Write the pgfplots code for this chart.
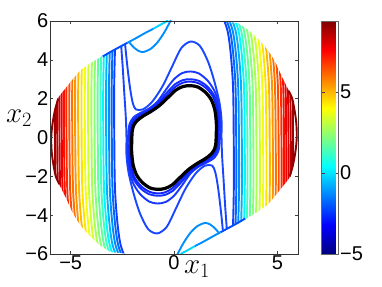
\RequirePackage{fix-cm}
\documentclass[border=0pt]{standalone}
\usepackage{pgfplots}
\pgfplotsset{compat=1.18}
\usepackage{fontspec}
\setmainfont{Liberation Sans}
\definecolor{c1}{rgb}{0.611,0,0}
\definecolor{c2}{rgb}{0.722,0,0}
\definecolor{c3}{rgb}{0.833,0,0}
\definecolor{c4}{rgb}{0.944,0,0}
\definecolor{c5}{rgb}{1,0.056,0}
\definecolor{c6}{rgb}{1,0.167,0}
\definecolor{c7}{rgb}{1,0.306,0}
\definecolor{c8}{rgb}{1,0.444,0}
\definecolor{c9}{rgb}{1,0.583,0}
\definecolor{c10}{rgb}{1,0.722,0}
\definecolor{c11}{rgb}{1,0.889,0}
\definecolor{c12}{rgb}{0.944,1,0.056}
\definecolor{c13}{rgb}{0.806,1,0.194}
\definecolor{c14}{rgb}{0.667,1,0.333}
\definecolor{c15}{rgb}{0.528,1,0.472}
\definecolor{c16}{rgb}{0.389,1,0.611}
\definecolor{c17}{rgb}{0.25,1,0.75}
\definecolor{c19}{rgb}{0,0.972,1}
\definecolor{c20}{rgb}{0,0.833,1}
\definecolor{c21}{rgb}{0,0.694,1}
\definecolor{c22}{rgb}{0,0.556,1}
\definecolor{c23}{rgb}{0,0.417,1}
\definecolor{c24}{rgb}{0,0.306,1}
\definecolor{c25}{rgb}{0.05,0.25,1}
\definecolor{cH}{rgb}{0.1,0.28,1}
\definecolor{cCc}{rgb}{0.1,0.22,1}
\definecolor{cCb}{rgb}{0.08,0.18,1}
\definecolor{cCa}{rgb}{0.06,0.14,1}
\definecolor{cArc}{rgb}{0.556,0,0}
\begin{document}
\begin{tikzpicture}
\path[use as bounding box] (-50pt,-32pt) rectangle (332pt,254pt);
\begin{axis}[
  at={(0pt,0pt)}, anchor=south west,
  scale only axis, width=248pt, height=233pt,
  xmin=-6, xmax=6, ymin=-6, ymax=6,
  xtick={-5,0,5}, xticklabels={−5,0,5},
  ytick={-6,-4,-2,0,2,4,6}, yticklabels={−6,−4,−2,0,2,4,6},
  tick align=inside, major tick length=3pt,
  tick style={black!75, line width=0.5pt},
  tick label style={font=\fontsize{20}{22}\selectfont, inner sep=1.5pt},
  axis line style={black!80, line width=0.6pt},
  axis on top,
  no markers,
  colormap/jet,
  point meta min=-5, point meta max=9.4,
  colorbar,
  colorbar style={
    at={(parent axis.north east)}, anchor=north west, xshift=15pt,
    width=17pt, height=233pt, scale only axis,
    ytick={-5,0,5}, yticklabels={−5,0,5},
    tick align=inside, major tick length=3pt,
    tick style={black!75, line width=0.5pt},
    yticklabel style={font=\fontsize{20}{22}\selectfont, inner sep=1.5pt},
    axis line style={black!60, line width=0.5pt},
  },
  xlabel={$x_1$}, ylabel={$x_2$},
  xlabel style={at={(rel axis cs:0.593,-0.0837)}, anchor=base, font=\fontsize{29}{31}\selectfont},
  ylabel style={at={(rel axis cs:-0.125,0.5665)}, rotate=-90, anchor=base, font=\fontsize{29}{31}\selectfont},
  every axis plot/.append style={line width=1.9pt, smooth, line join=round},
]
% ---- left open contour lines
\addplot[c1] coordinates {(-4.86,-7) (-5.46,-5.5) (-5.71,-3) (-5.76,0) (-5.76,3) (-5.66,7)};
\addplot[c2] coordinates {(-4.75,-7) (-5.35,-5.5) (-5.60,-3) (-5.65,0) (-5.65,3) (-5.55,7)};
\addplot[c3] coordinates {(-4.64,-7) (-5.24,-5.5) (-5.49,-3) (-5.54,0) (-5.54,3) (-5.44,7)};
\addplot[c4] coordinates {(-4.53,-7) (-5.13,-5.5) (-5.38,-3) (-5.43,0) (-5.43,3) (-5.33,7)};
\addplot[c5] coordinates {(-4.42,-7) (-5.02,-5.5) (-5.27,-3) (-5.32,0) (-5.32,3) (-5.22,7)};
\addplot[c6] coordinates {(-4.30,-7) (-4.90,-5.5) (-5.15,-3) (-5.20,0) (-5.20,3) (-5.10,7)};
\addplot[c7] coordinates {(-4.16,-7) (-4.76,-5.5) (-5.01,-3) (-5.06,0) (-5.06,3) (-4.96,7)};
\addplot[c8] coordinates {(-4.02,-7) (-4.62,-5.5) (-4.87,-3) (-4.92,0) (-4.92,3) (-4.82,7)};
\addplot[c9] coordinates {(-3.88,-7) (-4.48,-5.5) (-4.73,-3) (-4.78,0) (-4.78,3) (-4.68,7)};
\addplot[c10] coordinates {(-3.73,-7) (-4.33,-5.5) (-4.58,-3) (-4.63,0) (-4.63,3) (-4.53,7)};
\addplot[c11] coordinates {(-3.57,-7) (-4.17,-5.5) (-4.42,-3) (-4.47,0) (-4.47,3) (-4.37,7)};
\addplot[c12] coordinates {(-3.41,-7) (-4.01,-5.5) (-4.26,-3) (-4.31,0) (-4.31,3) (-4.21,7)};
\addplot[c13] coordinates {(-3.25,-7) (-3.85,-5.5) (-4.10,-3) (-4.15,0) (-4.15,3) (-4.05,7)};
\addplot[c14] coordinates {(-3.09,-7) (-3.69,-5.5) (-3.94,-3) (-3.99,0) (-3.99,3) (-3.89,7)};
\addplot[c15] coordinates {(-2.94,-7) (-3.54,-5.5) (-3.79,-3) (-3.84,0) (-3.84,3) (-3.74,7)};
\addplot[c16] coordinates {(-2.79,-7) (-3.39,-5.5) (-3.64,-3) (-3.69,0) (-3.69,3) (-3.59,7)};
\addplot[c17] coordinates {(-2.65,-7) (-3.25,-5.5) (-3.50,-3) (-3.55,0) (-3.55,3) (-3.45,7)};
\addplot[c19] coordinates {(-2.52,-7) (-3.12,-5.5) (-3.37,-3) (-3.42,0) (-3.42,3) (-3.32,7)};
\addplot[c21] coordinates {(-2.38,-7) (-2.98,-5.5) (-3.23,-3) (-3.28,0) (-3.28,3) (-3.18,7)};
\addplot[c22] coordinates {(-2.24,-7) (-2.84,-5.5) (-3.09,-3) (-3.14,0) (-3.14,3) (-3.04,7)};
\addplot[c23] coordinates {(-2.11,-7) (-2.71,-5.5) (-2.96,-3) (-3.01,0) (-3.01,3) (-2.91,7)};
\addplot[c25] coordinates {(-1.99,-7) (-2.59,-5.5) (-2.84,-3) (-2.89,0) (-2.89,3) (-2.79,7)};
% ---- right open contour lines
\addplot[c1] coordinates {(4.86,7) (5.46,5.5) (5.71,3) (5.76,0) (5.76,-3) (5.66,-7)};
\addplot[c2] coordinates {(4.75,7) (5.35,5.5) (5.60,3) (5.65,0) (5.65,-3) (5.55,-7)};
\addplot[c3] coordinates {(4.64,7) (5.24,5.5) (5.49,3) (5.54,0) (5.54,-3) (5.44,-7)};
\addplot[c4] coordinates {(4.53,7) (5.13,5.5) (5.38,3) (5.43,0) (5.43,-3) (5.33,-7)};
\addplot[c5] coordinates {(4.42,7) (5.02,5.5) (5.27,3) (5.32,0) (5.32,-3) (5.22,-7)};
\addplot[c6] coordinates {(4.30,7) (4.90,5.5) (5.15,3) (5.20,0) (5.20,-3) (5.10,-7)};
\addplot[c7] coordinates {(4.16,7) (4.76,5.5) (5.01,3) (5.06,0) (5.06,-3) (4.96,-7)};
\addplot[c8] coordinates {(4.02,7) (4.62,5.5) (4.87,3) (4.92,0) (4.92,-3) (4.82,-7)};
\addplot[c9] coordinates {(3.88,7) (4.48,5.5) (4.73,3) (4.78,0) (4.78,-3) (4.68,-7)};
\addplot[c10] coordinates {(3.73,7) (4.33,5.5) (4.58,3) (4.63,0) (4.63,-3) (4.53,-7)};
\addplot[c11] coordinates {(3.57,7) (4.17,5.5) (4.42,3) (4.47,0) (4.47,-3) (4.37,-7)};
\addplot[c12] coordinates {(3.41,7) (4.01,5.5) (4.26,3) (4.31,0) (4.31,-3) (4.21,-7)};
\addplot[c13] coordinates {(3.25,7) (3.85,5.5) (4.10,3) (4.15,0) (4.15,-3) (4.05,-7)};
\addplot[c14] coordinates {(3.09,7) (3.69,5.5) (3.94,3) (3.99,0) (3.99,-3) (3.89,-7)};
\addplot[c15] coordinates {(2.94,7) (3.54,5.5) (3.79,3) (3.84,0) (3.84,-3) (3.74,-7)};
\addplot[c16] coordinates {(2.79,7) (3.39,5.5) (3.64,3) (3.69,0) (3.69,-3) (3.59,-7)};
\addplot[c17] coordinates {(2.65,7) (3.25,5.5) (3.50,3) (3.55,0) (3.55,-3) (3.45,-7)};
\addplot[c19] coordinates {(2.52,7) (3.12,5.5) (3.37,3) (3.42,0) (3.42,-3) (3.32,-7)};
\addplot[c21] coordinates {(2.38,7) (2.98,5.5) (3.23,3) (3.28,0) (3.28,-3) (3.18,-7)};
\addplot[c22] coordinates {(2.24,7) (2.84,5.5) (3.09,3) (3.14,0) (3.14,-3) (3.04,-7)};
\addplot[c23] coordinates {(2.11,7) (2.71,5.5) (2.96,3) (3.01,0) (3.01,-3) (2.91,-7)};
\addplot[c25] coordinates {(1.99,7) (2.59,5.5) (2.84,3) (2.89,0) (2.89,-3) (2.79,-7)};
% ---- hump / trough open lines
\addplot[cH] coordinates {(-2.45,6.5) (-2.38,5.0) (-2.25,3.6) (-2.12,2.5) (-2.0,1.8) (-1.85,1.45) (-1.5,1.45) (-1.05,1.85) (-0.55,2.65) (-0.05,3.75) (0.35,4.6) (0.8,4.94) (1.25,4.72) (1.65,3.9) (1.95,2.9) (2.2,1.8) (2.3,0.9) (2.3,0) (2.33,-1.0) (2.4,-2.2) (2.48,-3.6) (2.57,-5.0) (2.62,-6.5)};
\addplot[cH] coordinates {(2.45,-6.5) (2.38,-5.0) (2.25,-3.6) (2.12,-2.5) (2.0,-1.8) (1.85,-1.45) (1.5,-1.45) (1.05,-1.85) (0.55,-2.65) (0.05,-3.75) (-0.35,-4.6) (-0.8,-4.94) (-1.25,-4.72) (-1.65,-3.9) (-1.95,-2.9) (-2.2,-1.8) (-2.3,-0.9) (-2.3,0) (-2.33,1.0) (-2.4,2.2) (-2.48,3.6) (-2.57,5.0) (-2.62,6.5)};
% ---- U loops near top and bottom
\addplot[c22] coordinates {(-2.25,5.02) (-2.0,4.7) (-1.75,4.48) (-1.5,4.4) (-1.15,4.55) (-0.8,4.9) (-0.45,5.45) (-0.15,6.05)};
\addplot[c22] coordinates {(2.25,-5.02) (2.0,-4.7) (1.75,-4.48) (1.5,-4.4) (1.15,-4.55) (0.8,-4.9) (0.45,-5.45) (0.15,-6.05)};
% ---- closed curves around the limit cycle
\addplot[cCc] coordinates {(-2.22,0) (-2.2,0.42) (-2.14,0.72) (-1.95,1.05) (-1.6,1.28) (-1.2,1.5) (-0.8,1.85) (-0.4,2.45) (0.0,3.0) (0.4,3.32) (0.8,3.4) (1.2,3.3) (1.65,2.9) (2.0,2.3) (2.2,1.5) (2.26,0.72) (2.22,0) (2.2,-0.42) (2.14,-0.72) (1.95,-1.05) (1.6,-1.28) (1.2,-1.5) (0.8,-1.85) (0.4,-2.45) (0.0,-3.0) (-0.4,-3.32) (-0.8,-3.4) (-1.2,-3.3) (-1.65,-2.9) (-2.0,-2.3) (-2.2,-1.5) (-2.26,-0.72) (-2.22,0)};
\addplot[cCb] coordinates {(-2.15,0) (-2.13,0.4) (-2.08,0.68) (-1.9,0.98) (-1.55,1.23) (-1.14,1.5) (-0.74,1.84) (-0.34,2.32) (0.06,2.75) (0.45,2.96) (0.8,3.0) (1.2,2.92) (1.62,2.62) (1.96,2.13) (2.14,1.47) (2.18,0.72) (2.15,0) (2.13,-0.4) (2.08,-0.68) (1.9,-0.98) (1.55,-1.23) (1.14,-1.5) (0.74,-1.84) (0.34,-2.32) (-0.06,-2.75) (-0.45,-2.96) (-0.8,-3.0) (-1.2,-2.92) (-1.62,-2.62) (-1.96,-2.13) (-2.14,-1.47) (-2.18,-0.72) (-2.15,0)};
\addplot[cCa] coordinates {(-2.1,0) (-2.08,0.38) (-2.03,0.64) (-1.85,0.93) (-1.52,1.18) (-1.12,1.44) (-0.72,1.76) (-0.32,2.2) (0.08,2.62) (0.45,2.83) (0.8,2.88) (1.18,2.8) (1.58,2.52) (1.9,2.07) (2.08,1.45) (2.13,0.72) (2.1,0) (2.08,-0.38) (2.03,-0.64) (1.85,-0.93) (1.52,-1.18) (1.12,-1.44) (0.72,-1.76) (0.32,-2.2) (-0.08,-2.62) (-0.45,-2.83) (-0.8,-2.88) (-1.18,-2.8) (-1.58,-2.52) (-1.9,-2.07) (-2.08,-1.45) (-2.13,-0.72) (-2.1,0)};
% ---- limit cycle (black)
\addplot[black, line width=3.2pt] coordinates {(-2.04,0) (-2.02,0.35) (-1.97,0.58) (-1.8,0.85) (-1.5,1.1) (-1.1,1.35) (-0.7,1.65) (-0.3,2.05) (0.1,2.45) (0.45,2.63) (0.8,2.67) (1.15,2.6) (1.5,2.35) (1.8,1.95) (1.98,1.4) (2.05,0.7) (2.04,0) (2.02,-0.35) (1.97,-0.58) (1.8,-0.85) (1.5,-1.1) (1.1,-1.35) (0.7,-1.65) (0.3,-2.05) (-0.1,-2.45) (-0.45,-2.63) (-0.8,-2.67) (-1.15,-2.6) (-1.5,-2.35) (-1.8,-1.95) (-1.98,-1.4) (-2.05,-0.7) (-2.04,0)};
% ---- white region outside the domain
\addplot[sharp plot, fill=white, draw=none, even odd rule] coordinates {(-7,0) (-7,7) (7,7) (7,-7) (-7,-7) (-7,0) (-6.0,0) (-5.95,0.5) (-5.87,1) (-5.78,1.5) (-5.65,2.0) (-5.4,2.35) (-5.15,2.68) (-4.85,3.08) (-4.55,3.45) (-4.1,3.8) (-3.6,4.12) (-3.2,4.38) (-2.77,4.62) (-2.3,4.9) (-1.9,5.15) (-1.4,5.45) (-0.83,5.78) (-0.4,6.0) (-0.3,6.5) (2.0,6.5) (2.2,6.0) (3.09,5.9) (3.6,5.55) (4.06,5.1) (4.4,4.7) (4.71,4.25) (4.97,3.75) (5.19,3.22) (5.45,2.65) (5.76,2.02) (5.9,1.2) (6.0,0) (5.95,-0.5) (5.87,-1) (5.78,-1.5) (5.65,-2.0) (5.4,-2.35) (5.15,-2.68) (4.85,-3.08) (4.55,-3.45) (4.1,-3.8) (3.6,-4.12) (3.2,-4.38) (2.77,-4.62) (2.3,-4.9) (1.9,-5.15) (1.4,-5.45) (0.83,-5.78) (0.4,-6.0) (0.3,-6.5) (-2.0,-6.5) (-2.2,-6.0) (-3.09,-5.9) (-3.6,-5.55) (-4.06,-5.1) (-4.4,-4.7) (-4.71,-4.25) (-4.97,-3.75) (-5.19,-3.22) (-5.45,-2.65) (-5.76,-2.02) (-5.9,-1.2) (-6.0,0) (-7,0)};
% ---- outermost arcs
\addplot[cArc] coordinates {(-5.6,2.0) (-5.76,1.4) (-5.88,0.7) (-5.94,0) (-5.92,-0.7) (-5.85,-1.3) (-5.72,-2.0) (-5.55,-2.4)};
\addplot[cArc] coordinates {(5.6,-2.0) (5.76,-1.4) (5.88,-0.7) (5.94,0) (5.92,0.7) (5.85,1.3) (5.72,2.0) (5.55,2.4)};
% ---- lines bunched along the domain edge
\addplot[c24] coordinates {(-3.45,4.17) (-3.0,4.45) (-2.6,4.68) (-2.25,4.88)};
\addplot[c22] coordinates {(-2.25,4.88) (-1.9,5.08) (-1.4,5.38) (-1.0,5.6)};
\addplot[c20] coordinates {(-1.0,5.6) (-0.6,5.84) (-0.4,5.95) (-0.3,6.05)};
\addplot[c24] coordinates {(3.45,-4.17) (3.0,-4.45) (2.6,-4.68) (2.25,-4.88)};
\addplot[c22] coordinates {(2.25,-4.88) (1.9,-5.08) (1.4,-5.38) (1.0,-5.6)};
\addplot[c20] coordinates {(1.0,-5.6) (0.6,-5.84) (0.4,-5.95) (0.3,-6.05)};
\end{axis}
\end{tikzpicture}
\end{document}
